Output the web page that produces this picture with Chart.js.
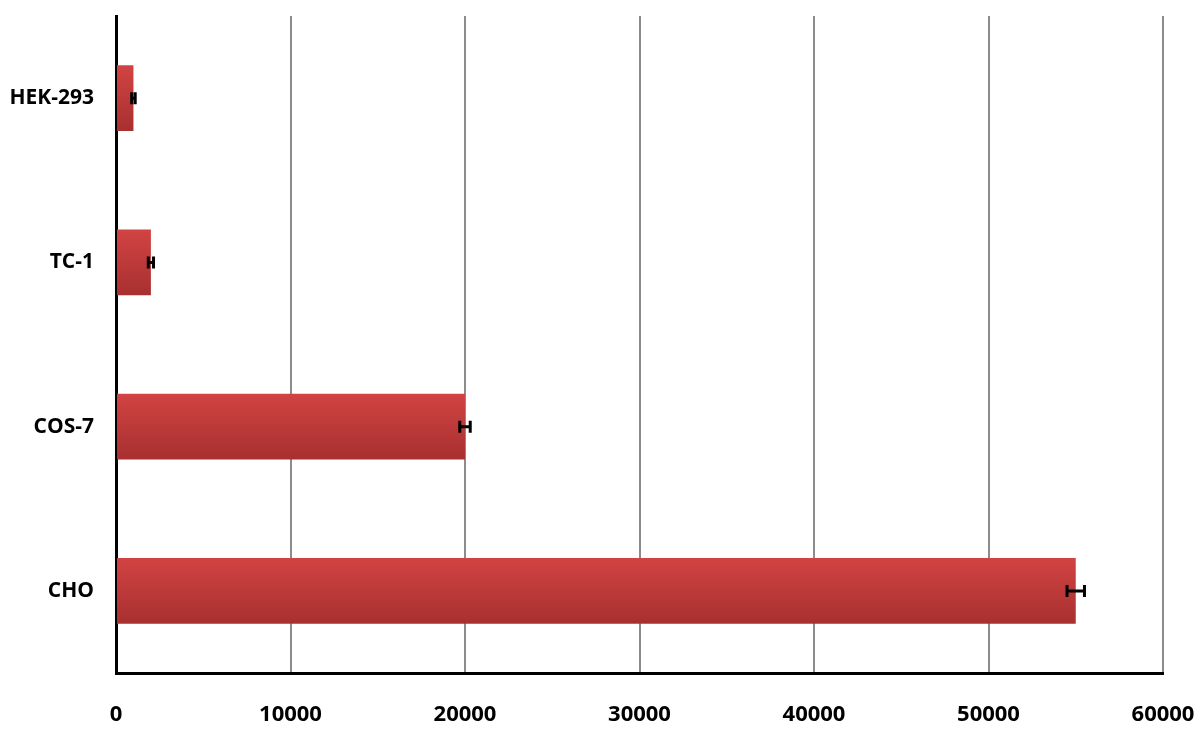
<!DOCTYPE html>
<html>
<head>
<meta charset="utf-8">
<script src="https://cdn.jsdelivr.net/npm/chart.js@4.4.1/dist/chart.umd.min.js"></script>
<style>
  html, body { margin: 0; padding: 0; background: #fff; }
  #wrap { width: 1200px; height: 735px; position: relative; }
</style>
</head>
<body>
<div id="wrap"><canvas id="barChart"></canvas></div>
<script>
// cell lines, values and error (+/-)
const cellLines = ['HEK-293', 'TC-1', 'COS-7', 'CHO'];
const values = [1000, 2000, 20000, 55000];
const errors = [100, 150, 300, 500];
const xTicks = [0, 10000, 20000, 30000, 40000, 50000, 60000];

// horizontal error bars drawn through the scales
const errorBars = {
    id: 'errorBars',
    afterDatasetsDraw(chart) {
        const ctx = chart.ctx;
        const x = chart.scales.x;
        const meta = chart.getDatasetMeta(0);
        ctx.save();
        ctx.strokeStyle = '#000';
        ctx.lineWidth = 3;
        meta.data.forEach(function(bar, i) {
            const lo = x.getPixelForValue(values[i] - errors[i]);
            const hi = x.getPixelForValue(values[i] + errors[i]);
            const y = bar.y;
            ctx.beginPath();
            ctx.moveTo(lo, y); ctx.lineTo(hi, y);
            ctx.moveTo(lo, y - 6); ctx.lineTo(lo, y + 6);
            ctx.moveTo(hi, y - 6); ctx.lineTo(hi, y + 6);
            ctx.stroke();
        });
        ctx.restore();
    }
};

function barFill(c) {
    const yScale = c.chart.scales.y;
    if (!yScale || c.dataIndex === undefined) return '#c43a3a';
    const cy = yScale.getPixelForValue(c.dataIndex);
    const h = yScale.height / cellLines.length * 0.4;
    if (!isFinite(cy) || !isFinite(h)) return '#c43a3a';
    const g = c.chart.ctx.createLinearGradient(0, cy - h / 2, 0, cy + h / 2);
    g.addColorStop(0, '#d24343');
    g.addColorStop(1, '#a83030');
    return g;
}

document.addEventListener('DOMContentLoaded', function() {
    const ctx = document.getElementById('barChart').getContext('2d');
    new Chart(ctx, {
        type: 'bar',
        data: {
            labels: cellLines,
            datasets: [{
                data: values,
                backgroundColor: barFill,
                borderWidth: 0,
                barPercentage: 0.4,
                categoryPercentage: 1
            }]
        },
        options: {
            indexAxis: 'y',
            responsive: true,
            maintainAspectRatio: false,
            animation: false,
            layout: { padding: { top: 16, right: 37, left: 0, bottom: 0 } },
            plugins: { legend: { display: false }, tooltip: { enabled: false } },
            scales: {
                x: {
                    min: 0, max: 60000,
                    afterBuildTicks: function(s) { s.ticks = xTicks.map(v => ({ value: v })); },
                    afterFit: function(s) {
                        s.height = 62;
                        s.paddingLeft = 0; s.paddingRight = 0;
                    },
                    grid: { color: '#8c8c8c', lineWidth: 2, drawTicks: false },
                    border: { display: true, color: '#000', width: 3 },
                    ticks: {
                        color: '#000', padding: 29, maxRotation: 0,
                        callback: function(v) { return String(v); },
                        font: { family: 'Open Sans', weight: 'bold', size: 22 }
                    }
                },
                y: {
                    afterFit: function(s) {
                        s.width = 116;
                        s.paddingTop = 0; s.paddingBottom = 0;
                    },
                    grid: { display: false, drawTicks: false },
                    border: { display: true, color: '#000', width: 3 },
                    ticks: {
                        color: '#000', padding: 22,
                        font: { family: 'Open Sans', weight: 'bold', size: 21 }
                    }
                }
            }
        },
        plugins: [errorBars]
    });
});
</script>
</body>
</html>
